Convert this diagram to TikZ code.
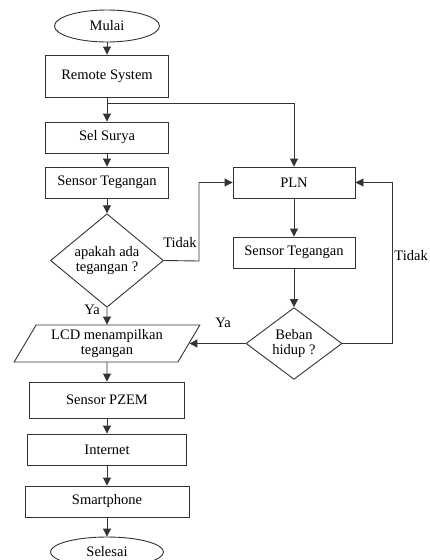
\documentclass[tikz,border=0pt]{standalone}
\usepackage{fontspec}
\setmainfont{Liberation Serif}
\usetikzlibrary{shapes.geometric,arrows.meta}
\begin{document}
\begin{tikzpicture}[x=1pt,y=-1pt,
  every node/.style={font=\fontsize{14.5}{15.5}\selectfont},
  ln/.style={draw=black!80, line width=0.9pt},
  arr/.style={ln, -{Triangle[length=8pt,width=8pt]}},
  proc/.style={ln, rectangle, inner sep=0pt, align=center},
  term/.style={ln, ellipse, inner sep=0pt},
  dec/.style={ln, diamond, inner sep=0pt, align=center},
  io/.style={ln, trapezium, trapezium left angle=59, trapezium right angle=121, trapezium stretches=true, inner sep=0pt, align=center},
  lbl/.style={inner sep=0pt}]
\useasboundingbox (0,0) rectangle (429,560);
\node[term, minimum width=105pt, minimum height=32pt] (mulai) at (107,26) {Mulai};
\node[proc, minimum width=123pt, minimum height=42pt] (remote) at (107,76) {Remote System};
\node[proc, minimum width=123pt, minimum height=31pt] (sel) at (107,137.5) {Sel Surya};
\node[proc, minimum width=123pt, minimum height=31pt] (st1) at (107,182.5) {Sensor Tegangan};
\node[dec, minimum width=113pt, minimum height=91pt] (q1) at (107,260.5) {apakah ada\\tegangan ?};
\node[proc, minimum width=122pt, minimum height=31pt] (pln) at (294,182.5) {PLN};
\node[proc, minimum width=122pt, minimum height=31pt] (st2) at (294,252.5) {Sensor Tegangan};
\node[dec, minimum width=96pt, minimum height=61pt] (q2) at (294,343.5) {Beban\\hidup ?};
\node[io, minimum width=186pt, minimum height=37pt] (lcd) at (107,343.5) {LCD menampilkan\\tegangan};
\node[proc, minimum width=155pt, minimum height=36pt] (pzem) at (107,400) {Sensor PZEM};
\node[proc, minimum width=159pt, minimum height=31pt] (inet) at (107,449.5) {Internet};
\node[proc, minimum width=164pt, minimum height=31pt] (smart) at (107,501.5) {Smartphone};
\node[term, minimum width=113pt, minimum height=30pt] (selesai) at (107,552) {Selesai};

\coordinate (br) at (107,103);
\coordinate (t1) at (199,261);
\coordinate (t2) at (392,343.5);

\draw[arr] (mulai) -- (remote);
\draw[arr] (remote) -- (sel);
\draw[ln] (remote.south) -- (br);
\draw[arr] (br) -| (pln.north);
\draw[arr] (sel) -- (st1);
\draw[arr] (st1) -- (q1);
\draw[arr] (q1.east) -- (t1) |- (pln.west);
\draw[arr] (pln) -- (st2);
\draw[arr] (st2) -- (q2);
\draw[arr] (q2.east) -- (t2) |- (pln.east);
\draw[arr] (q2.west) -- (lcd.east);
\draw[arr] (q1.south) -- (lcd.north);
\draw[arr] (lcd.south) -- (pzem.north);
\draw[arr] (pzem) -- (inet);
\draw[arr] (inet) -- (smart);
\draw[arr] (smart) -- (selesai);

\node[lbl] (lt1) at (180,243) {Tidak};
\node[lbl, anchor=east] (lt2) at (428,256) {Tidak};
\node[lbl] (ly2) at (223,323) {Ya};
\node[lbl] (ly1) at (92,310) {Ya};
\end{tikzpicture}
\end{document}
